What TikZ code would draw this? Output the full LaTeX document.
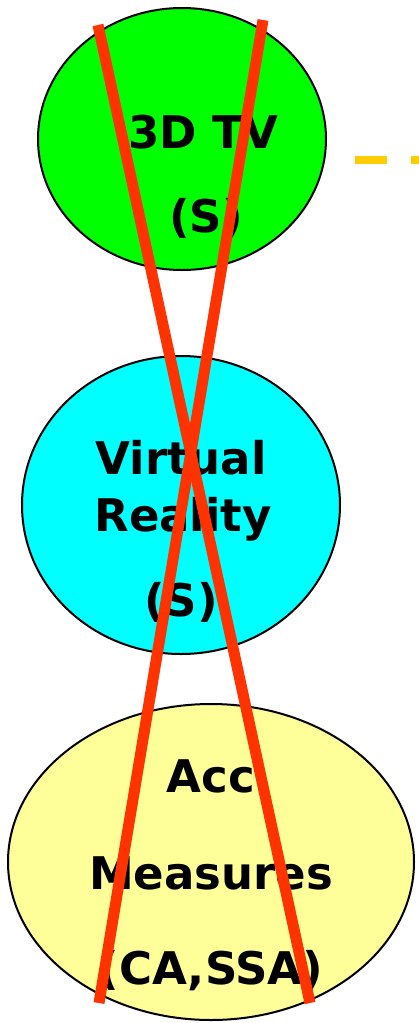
\documentclass[tikz,border=0pt]{standalone}
\usepackage{fontspec}
\setmainfont{DejaVu Sans}
\begin{document}
\begin{tikzpicture}[x=1pt,y=-1pt,
  bubble/.style={draw=black,line width=2pt},
  lbl/.style={font=\bfseries\fontsize{45}{50}\selectfont,inner sep=0pt,anchor=base},
  cross/.style={draw={rgb,255:red,255;green,51;blue,0},line width=11pt},
  link/.style={draw={rgb,255:red,255;green,204;blue,0},line width=8pt,dash pattern=on 32pt off 24pt}]
\useasboundingbox (0,0) rectangle (419,1023);
\fill[white] (0,0) rectangle (419,1023);
\path[bubble,fill={rgb,255:red,0;green,255;blue,0}] (182,139) ellipse [x radius=144,y radius=131];
\path[bubble,fill={rgb,255:red,0;green,255;blue,255}] (181,505) ellipse [x radius=159,y radius=149];
\path[bubble,fill={rgb,255:red,255;green,255;blue,153}] (211,862) ellipse [x radius=203,y radius=158];
\node[lbl] (t1) at (203,148) {3D TV};
\node[lbl] (t2) at (206,232) {(S)};
\node[lbl] (t3) at (181,474) {Virtual};
\node[lbl] (t4) at (183,531) {Reality};
\node[lbl] (t5) at (181,616) {(S)};
\node[lbl] (t6) at (211,792) {Acc};
\node[lbl] (t7) at (211,889) {Measures};
\node[lbl] (t8) at (211,984) {(CA,SSA)};
\coordinate (d1) at (355,160);
\coordinate (d2) at (419,160);
\path[link] (d1) -- (d2);
\coordinate (a1) at (98,25);
\coordinate (a2) at (310,1003);
\coordinate (b1) at (263,20);
\coordinate (b2) at (99,1003);
\path[cross] (a1) -- (a2);
\path[cross] (b1) -- (b2);
\end{tikzpicture}
\end{document}
